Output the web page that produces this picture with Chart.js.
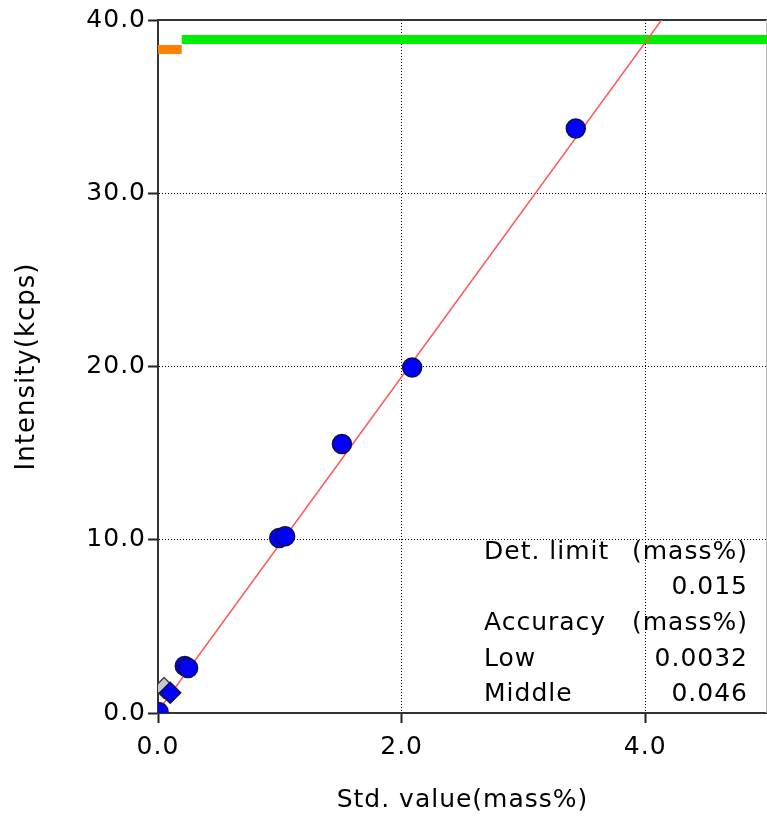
<!DOCTYPE html>
<html>
<head>
<meta charset="utf-8">
<script src="https://cdn.jsdelivr.net/npm/chart.js@4.4.1/dist/chart.umd.min.js"></script>
<style>
  html, body { margin: 0; padding: 0; background: #fff; }
  canvas { display: block; }
</style>
</head>
<body>
<canvas id="calibChart" width="767" height="817"></canvas>
<script>
// calibration standards (std value in mass%, intensity in kcps)
const stdValues = [0.005, 0.22, 0.247, 0.995, 1.044, 1.51, 2.087, 3.43];
const intensities = [0.06, 2.71, 2.6, 10.1, 10.2, 15.52, 19.94, 33.74];

// diamond marked standards
const diamondStd = [0.1];
const diamondInt = [1.17];
const greyStd = [0.05];
const greyInt = [1.44];

// calibration line
const lineStd = [0, 5];
const lineInt = [0.1, 48.35];

// range bars along the top
const orangeStd = [0, 0.195];
const orangeInt = [38.3, 38.3];
const greenStd = [0.195, 5];
const greenInt = [38.87, 38.87];

const xTicks = [0, 2, 4];
const yTicks = [0, 10, 20, 30, 40];

const infoLeft = ['Det. limit', '', 'Accuracy', 'Low', 'Middle'];
const infoRight = ['(mass%)', '0.015', '(mass%)', '0.0032', '0.046'];

const FONT = 'DejaVu Sans';
const TEXT = '#000';

const toPoints = (xs, ys) => xs.map((x, i) => ({ x: x, y: ys[i] }));

// wider letter spacing, like the original
const spacing = {
    id: 'spacing',
    afterInit(chart) { chart.ctx.letterSpacing = '1px'; },
    beforeUpdate(chart) { chart.ctx.letterSpacing = '1px'; }
};

// top and right frame lines
const frame = {
    id: 'frame',
    beforeDatasetsDraw(chart) {
        const { ctx, chartArea: a } = chart;
        ctx.save();
        ctx.setLineDash([]);
        ctx.strokeStyle = '#333';
        ctx.lineWidth = 2;
        ctx.beginPath();
        ctx.moveTo(a.left, a.top);
        ctx.lineTo(a.right, a.top);
        ctx.stroke();
        ctx.strokeStyle = '#bbb';
        ctx.lineWidth = 1;
        ctx.beginPath();
        ctx.moveTo(a.right - 0.5, a.top);
        ctx.lineTo(a.right - 0.5, a.bottom);
        ctx.stroke();
        ctx.restore();
    }
};

// detection limit / accuracy text
const infoBox = {
    id: 'infoBox',
    afterDatasetsDraw(chart) {
        const { ctx, chartArea: a } = chart;
        ctx.save();
        ctx.font = '25px "' + FONT + '"';
        ctx.fillStyle = TEXT;
        ctx.textBaseline = 'middle';
        infoLeft.forEach((txt, i) => {
            const y = a.bottom - 161 + i * 35.7;
            ctx.textAlign = 'left';
            ctx.fillText(txt, a.right - 283, y);
            ctx.textAlign = 'right';
            ctx.fillText(infoRight[i], a.right - 19, y);
        });
        ctx.restore();
    }
};

const pointStyle = {
    showLine: false,
    clip: 0,
    backgroundColor: '#0000ff',
    borderColor: '#10104a',
    borderWidth: 1.5
};

new Chart(document.getElementById('calibChart'), {
    type: 'scatter',
    data: {
        datasets: [
            { ...pointStyle, label: 'Standards', data: toPoints(stdValues, intensities), pointStyle: 'circle', pointRadius: 9.5 },
            { ...pointStyle, label: 'Diamond', data: toPoints(diamondStd, diamondInt), pointStyle: 'rectRot', pointRadius: 10.5 },
            { ...pointStyle, label: 'Grey', data: toPoints(greyStd, greyInt), pointStyle: 'rectRot', pointRadius: 10.5,
              backgroundColor: '#c8c8c8', borderColor: '#444' },
            { label: 'Calibration', data: toPoints(lineStd, lineInt), showLine: true, pointRadius: 0,
              borderColor: '#ff5555', borderWidth: 1.5, clip: 0 },
            { label: 'Low range', data: toPoints(orangeStd, orangeInt), showLine: true, pointRadius: 0,
              borderColor: '#ff8000', borderWidth: 9, borderCapStyle: 'butt', clip: 0 },
            { label: 'Range', data: toPoints(greenStd, greenInt), showLine: true, pointRadius: 0,
              borderColor: '#00ee00', borderWidth: 9, borderCapStyle: 'butt', clip: 0 }
        ]
    },
    options: {
        responsive: false,
        animation: false,
        events: [],
        layout: { autoPadding: false, padding: { top: 20, right: 0, bottom: 0, left: 0 } },
        plugins: {
            legend: { display: false },
            tooltip: { enabled: false }
        },
        scales: {
            x: {
                type: 'linear',
                min: 0,
                max: 5,
                afterFit: s => { s.height = 104; s.paddingLeft = 0; s.paddingRight = 0; },
                afterBuildTicks: s => { s.ticks = xTicks.map(v => ({ value: v })); },
                ticks: {
                    callback: v => v.toFixed(1),
                    font: { family: FONT, size: 25 },
                    color: TEXT,
                    padding: 9,
                    maxRotation: 0,
                    autoSkip: false
                },
                grid: { color: '#000', lineWidth: 1, tickLength: 10, tickColor: '#222', tickWidth: 2, tickBorderDash: [] },
                border: { color: '#333', width: 2, dash: [1, 2] },
                title: {
                    display: true,
                    text: 'Std. value(mass%)',
                    font: { family: FONT, size: 25 },
                    color: TEXT,
                    padding: { top: 0, bottom: 2 }
                }
            },
            y: {
                type: 'linear',
                min: 0,
                max: 40,
                afterFit: s => { s.width = 158; s.paddingTop = 0; s.paddingBottom = 0; },
                afterBuildTicks: s => { s.ticks = yTicks.map(v => ({ value: v })); },
                ticks: {
                    callback: v => v.toFixed(1),
                    font: { family: FONT, size: 25 },
                    color: TEXT,
                    padding: 2
                },
                grid: { color: '#000', lineWidth: 1, tickLength: 10, tickColor: '#222', tickWidth: 2, tickBorderDash: [] },
                border: { color: '#333', width: 2, dash: [1, 2] },
                title: {
                    display: true,
                    text: 'Intensity(kcps)',
                    font: { family: FONT, size: 26 },
                    color: TEXT,
                    padding: { top: 12, bottom: 0 }
                }
            }
        }
    },
    plugins: [spacing, frame, infoBox]
});
</script>
</body>
</html>
